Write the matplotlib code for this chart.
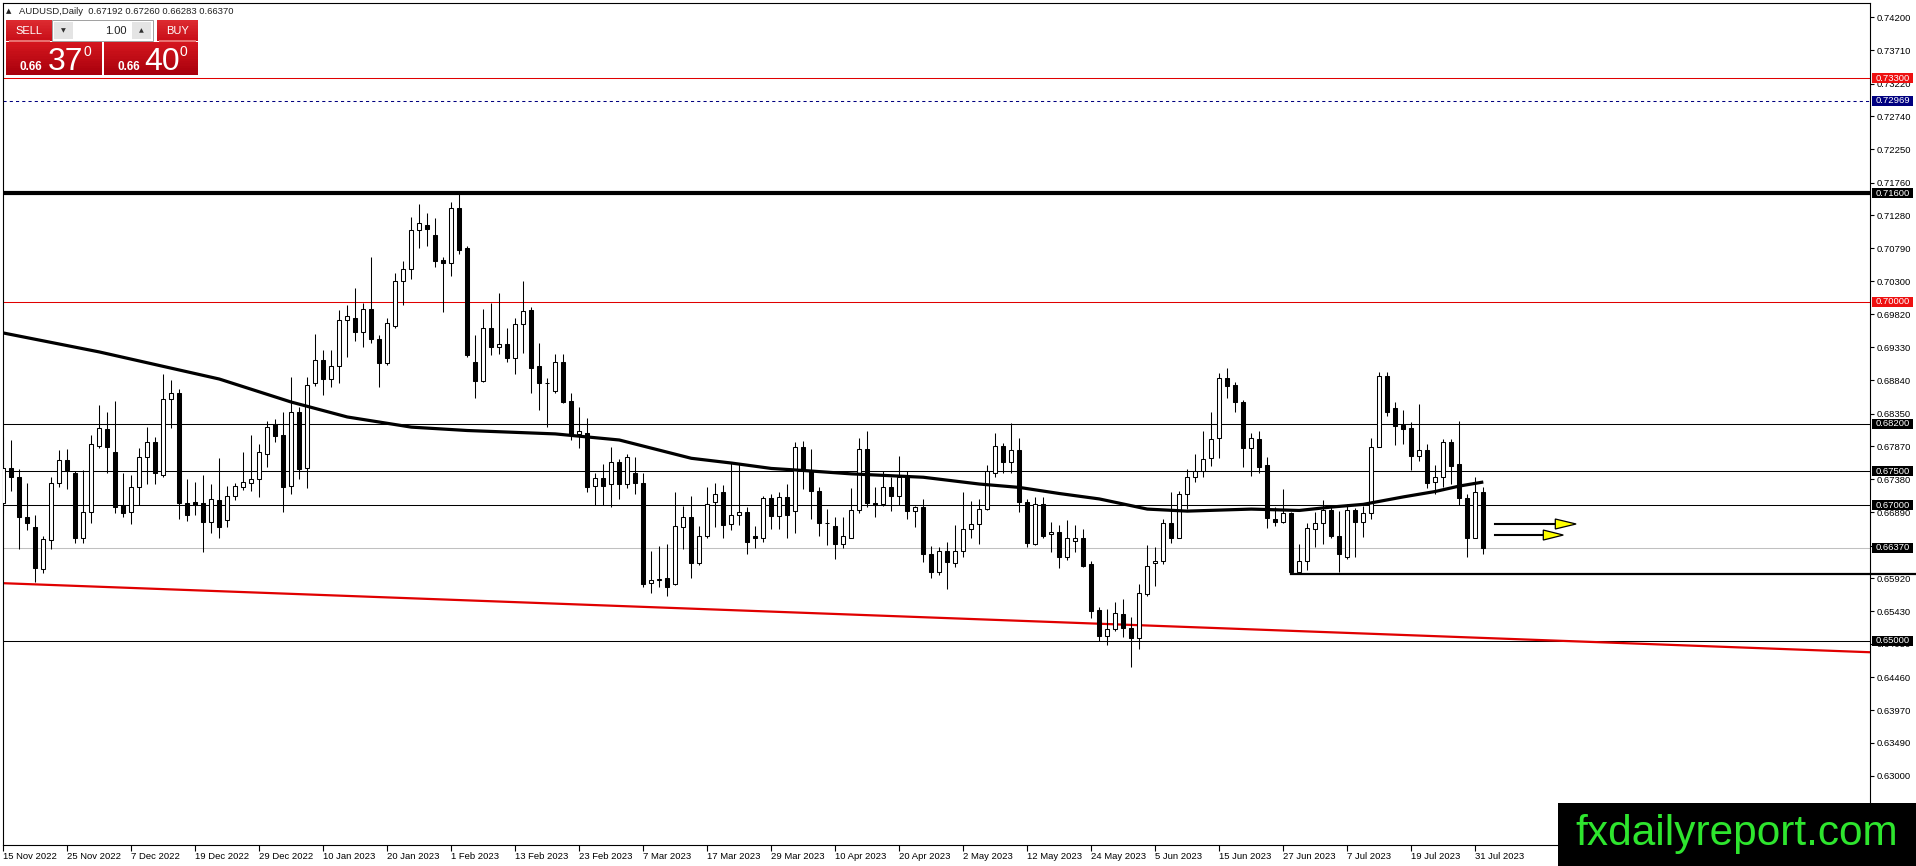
import matplotlib
matplotlib.use("Agg")
import matplotlib.pyplot as plt
from matplotlib.patches import Rectangle, Polygon
from matplotlib.transforms import blended_transform_factory

W, H, DPI = 1916, 866, 100

# ---------------- data (AUDUSD daily, 15 Nov 2022 .. 1 Aug 2023) ----------------
opens = [0.6703, 0.6754, 0.6742, 0.6682, 0.6667, 0.6605, 0.6648, 0.6732, 0.6766, 0.6748,
         0.6652, 0.6689, 0.6787, 0.6812, 0.6779, 0.6700, 0.6689, 0.6726, 0.6771, 0.6793,
         0.6744, 0.6856, 0.6865, 0.6703, 0.6704, 0.6703, 0.6675, 0.6707, 0.6678, 0.6714,
         0.6726, 0.6732, 0.6738, 0.6776, 0.6819, 0.6803, 0.6728, 0.6838, 0.6754, 0.6880,
         0.6914, 0.6886, 0.6905, 0.6973, 0.6976, 0.6955, 0.6990, 0.6945, 0.6909, 0.6964,
         0.7030, 0.7048, 0.7106, 0.7114, 0.7098, 0.7061, 0.7057, 0.7138, 0.7079, 0.6911,
         0.6883, 0.6961, 0.6933, 0.6937, 0.6917, 0.6967, 0.6988, 0.6905, 0.6880, 0.6868,
         0.6911, 0.6853, 0.6805, 0.6807, 0.6728, 0.6740, 0.6731, 0.6763, 0.6731, 0.6747,
         0.6732, 0.6585, 0.6590, 0.6592, 0.6583, 0.6667, 0.6682, 0.6614, 0.6654, 0.6704,
         0.6719, 0.6672, 0.6686, 0.6689, 0.6654, 0.6651, 0.6710, 0.6684, 0.6712, 0.6691,
         0.6785, 0.6751, 0.6720, 0.6674, 0.6669, 0.6642, 0.6652, 0.6692, 0.6782, 0.6703,
         0.6701, 0.6726, 0.6713, 0.6742, 0.6691, 0.6697, 0.6627, 0.6601, 0.6632, 0.6614,
         0.6632, 0.6664, 0.6672, 0.6694, 0.6748, 0.6787, 0.6763, 0.6781, 0.6704, 0.6642,
         0.6701, 0.6657, 0.6660, 0.6623, 0.6647, 0.6652, 0.6613, 0.6545, 0.6506, 0.6517,
         0.6539, 0.6518, 0.6503, 0.6568, 0.6614, 0.6617, 0.6673, 0.6652, 0.6717, 0.6741,
         0.6750, 0.6769, 0.6799, 0.6887, 0.6877, 0.6852, 0.6784, 0.6797, 0.6759, 0.6679,
         0.6675, 0.6688, 0.6601, 0.6617, 0.6664, 0.6673, 0.6692, 0.6655, 0.6624, 0.6692,
         0.6675, 0.6688, 0.6785, 0.6890, 0.6843, 0.6818, 0.6813, 0.6772, 0.6781, 0.6734,
         0.6741, 0.6793, 0.6760, 0.6710, 0.6652, 0.67192]
highs = [0.6800, 0.6796, 0.6753, 0.6732, 0.6685, 0.6654, 0.6741, 0.6781, 0.6782, 0.6750,
         0.6751, 0.6803, 0.6847, 0.6838, 0.6853, 0.6747, 0.6744, 0.6784, 0.6815, 0.6800,
         0.6894, 0.6884, 0.6872, 0.6738, 0.6734, 0.6745, 0.6731, 0.6769, 0.6728, 0.6733,
         0.6778, 0.6803, 0.6790, 0.6824, 0.6827, 0.6837, 0.6889, 0.6844, 0.6889, 0.6952,
         0.6929, 0.6929, 0.6988, 0.6996, 0.7021, 0.6998, 0.7066, 0.6951, 0.6976, 0.7042,
         0.7060, 0.7125, 0.7145, 0.7131, 0.7123, 0.7066, 0.7147, 0.7160, 0.7083, 0.6951,
         0.6990, 0.6998, 0.7013, 0.6962, 0.6976, 0.7030, 0.6992, 0.6939, 0.6887, 0.6923,
         0.6923, 0.6866, 0.6844, 0.6828, 0.6747, 0.6760, 0.6785, 0.6768, 0.6776, 0.6771,
         0.6748, 0.6632, 0.6639, 0.6642, 0.6719, 0.6698, 0.6713, 0.6669, 0.6726, 0.6732,
         0.6729, 0.6762, 0.6762, 0.6697, 0.6669, 0.6713, 0.6716, 0.6719, 0.6731, 0.6793,
         0.6794, 0.6782, 0.6726, 0.6694, 0.6682, 0.6682, 0.6725, 0.6799, 0.6809, 0.6726,
         0.6750, 0.6742, 0.6773, 0.6750, 0.6698, 0.6709, 0.6640, 0.6638, 0.6645, 0.6670,
         0.6719, 0.6706, 0.6709, 0.6759, 0.6806, 0.6791, 0.6821, 0.6799, 0.6709, 0.6712,
         0.6712, 0.6675, 0.6670, 0.6678, 0.6670, 0.6664, 0.6617, 0.6549, 0.6546, 0.6557,
         0.6562, 0.6534, 0.6583, 0.6641, 0.6638, 0.6680, 0.6719, 0.6720, 0.6753, 0.6775,
         0.6809, 0.6838, 0.6895, 0.6902, 0.6881, 0.6855, 0.6807, 0.6809, 0.6771, 0.6697,
         0.6723, 0.6690, 0.6642, 0.6673, 0.6690, 0.6707, 0.6699, 0.6691, 0.6701, 0.6695,
         0.6698, 0.6799, 0.6897, 0.6896, 0.6852, 0.6840, 0.6822, 0.6849, 0.6790, 0.6759,
         0.6797, 0.6797, 0.6824, 0.6717, 0.6741, 0.67260]
lows = [0.6688, 0.6720, 0.6635, 0.6663, 0.6586, 0.6599, 0.6635, 0.6726, 0.6723, 0.6644,
        0.6644, 0.6673, 0.6784, 0.6747, 0.6688, 0.6682, 0.6672, 0.6700, 0.6731, 0.6731,
        0.6741, 0.6813, 0.6679, 0.6676, 0.6685, 0.6630, 0.6658, 0.6651, 0.6668, 0.6708,
        0.6722, 0.6720, 0.6712, 0.6756, 0.6793, 0.6689, 0.6717, 0.6738, 0.6725, 0.6875,
        0.6862, 0.6874, 0.6880, 0.6918, 0.6942, 0.6933, 0.6939, 0.6874, 0.6906, 0.6961,
        0.6995, 0.7033, 0.7080, 0.7083, 0.7052, 0.6985, 0.7038, 0.7070, 0.6918, 0.6858,
        0.6881, 0.6921, 0.6923, 0.6911, 0.6893, 0.6924, 0.6866, 0.6841, 0.6815, 0.6865,
        0.6850, 0.6796, 0.6784, 0.6719, 0.6700, 0.6700, 0.6697, 0.6709, 0.6725, 0.6717,
        0.6579, 0.6570, 0.6579, 0.6565, 0.6582, 0.6635, 0.6592, 0.6611, 0.6651, 0.6667,
        0.6652, 0.6663, 0.6670, 0.6627, 0.6637, 0.6645, 0.6664, 0.6664, 0.6652, 0.6658,
        0.6723, 0.6679, 0.6654, 0.6641, 0.6621, 0.6636, 0.6651, 0.6688, 0.6697, 0.6682,
        0.6698, 0.6691, 0.6700, 0.6679, 0.6667, 0.6616, 0.6593, 0.6596, 0.6576, 0.6608,
        0.6623, 0.6652, 0.6642, 0.6692, 0.6742, 0.6748, 0.6747, 0.6689, 0.6638, 0.6641,
        0.6652, 0.6630, 0.6607, 0.6619, 0.6630, 0.6608, 0.6533, 0.6500, 0.6493, 0.6514,
        0.6505, 0.6461, 0.6487, 0.6566, 0.6580, 0.6613, 0.6644, 0.6652, 0.6694, 0.6734,
        0.6741, 0.6757, 0.6769, 0.6858, 0.6837, 0.6756, 0.6743, 0.6747, 0.6666, 0.6669,
        0.6673, 0.6599, 0.6599, 0.6604, 0.6638, 0.6642, 0.6652, 0.6601, 0.6620, 0.6624,
        0.6653, 0.6680, 0.6785, 0.6831, 0.6788, 0.6790, 0.6751, 0.6765, 0.6725, 0.6717,
        0.6726, 0.6731, 0.6700, 0.6623, 0.6651, 0.66283]
closes = [0.6754, 0.6742, 0.6682, 0.6673, 0.6607, 0.6650, 0.6732, 0.6766, 0.6751, 0.6652,
          0.6689, 0.6790, 0.6813, 0.6785, 0.6697, 0.6688, 0.6726, 0.6771, 0.6793, 0.6747,
          0.6856, 0.6865, 0.6703, 0.6685, 0.6700, 0.6675, 0.6709, 0.6667, 0.6714, 0.6728,
          0.6734, 0.6738, 0.6778, 0.6815, 0.6802, 0.6726, 0.6838, 0.6753, 0.6877, 0.6914,
          0.6886, 0.6905, 0.6973, 0.6979, 0.6955, 0.6989, 0.6945, 0.6909, 0.6968, 0.7030,
          0.7048, 0.7106, 0.7116, 0.7107, 0.7060, 0.7057, 0.7138, 0.7076, 0.6921, 0.6883,
          0.6961, 0.6933, 0.6937, 0.6917, 0.6967, 0.6986, 0.6903, 0.6880, 0.6880, 0.6911,
          0.6852, 0.6803, 0.6809, 0.6726, 0.6740, 0.6728, 0.6763, 0.6731, 0.6771, 0.6732,
          0.6583, 0.6590, 0.6591, 0.6579, 0.6669, 0.6682, 0.6614, 0.6655, 0.6701, 0.6717,
          0.6670, 0.6686, 0.6689, 0.6645, 0.6651, 0.6710, 0.6684, 0.6712, 0.6686, 0.6785,
          0.6751, 0.6720, 0.6673, 0.6673, 0.6642, 0.6654, 0.6692, 0.6782, 0.6703, 0.6700,
          0.6726, 0.6713, 0.6741, 0.6691, 0.6697, 0.6627, 0.6601, 0.6632, 0.6616, 0.6632,
          0.6664, 0.6672, 0.6694, 0.6750, 0.6787, 0.6763, 0.6781, 0.6704, 0.6644, 0.6701,
          0.6655, 0.6660, 0.6623, 0.6652, 0.6652, 0.6610, 0.6543, 0.6506, 0.6517, 0.6540,
          0.6518, 0.6503, 0.6570, 0.6610, 0.6617, 0.6673, 0.6652, 0.6717, 0.6741, 0.6750,
          0.6768, 0.6797, 0.6887, 0.6875, 0.6852, 0.6784, 0.6799, 0.6756, 0.6681, 0.6675,
          0.6688, 0.6601, 0.6617, 0.6666, 0.6673, 0.6692, 0.6654, 0.6627, 0.6692, 0.6675,
          0.6688, 0.6785, 0.6890, 0.6838, 0.6816, 0.6812, 0.6772, 0.6781, 0.6732, 0.6741,
          0.6793, 0.6757, 0.6710, 0.6651, 0.6719, 0.66370]

# moving average (bar index, price)
ma_bars = [0, 12, 27, 36, 43, 51, 58, 69, 77, 82, 86, 91, 96, 100, 106, 115, 122, 127,
           132, 137, 143, 148, 156, 162, 166, 170, 175, 179, 182, 185]
ma_vals = [0.6954, 0.6926, 0.6886, 0.6852, 0.6830, 0.6815, 0.6810, 0.6805, 0.6796, 0.6781,
           0.6769, 0.6762, 0.6754, 0.6751, 0.6746, 0.6741, 0.6731, 0.6726, 0.6717, 0.6709,
           0.6694, 0.6691, 0.6694, 0.6692, 0.6697, 0.6701, 0.6712, 0.6720, 0.6728, 0.6734]

date_labels = ["15 Nov 2022", "25 Nov 2022", "7 Dec 2022", "19 Dec 2022", "29 Dec 2022",
               "10 Jan 2023", "20 Jan 2023", "1 Feb 2023", "13 Feb 2023", "23 Feb 2023",
               "7 Mar 2023", "17 Mar 2023", "29 Mar 2023", "10 Apr 2023", "20 Apr 2023",
               "2 May 2023", "12 May 2023", "24 May 2023", "5 Jun 2023", "15 Jun 2023",
               "27 Jun 2023", "7 Jul 2023", "19 Jul 2023", "31 Jul 2023"]
date_label_bars = [0, 8, 16, 24, 32, 40, 48, 56, 64, 72, 80, 88, 96, 104, 112, 120, 128,
                   136, 144, 152, 160, 168, 176, 184]

price_ticks = [0.74200, 0.73710, 0.73220, 0.72740, 0.72250, 0.71760, 0.71280, 0.70790,
               0.70300, 0.69820, 0.69330, 0.68840, 0.68350, 0.67870, 0.67380, 0.66890,
               0.66400, 0.65920, 0.65430, 0.64950, 0.64460, 0.63970, 0.63490, 0.63000]
hidden_tick_labels = [0.66400]   # fully covered by the 0.66370 price box in the original

level_prices = [0.73300, 0.72969, 0.71600, 0.70000, 0.68200, 0.67500, 0.67000, 0.66370, 0.65000]
level_names = ["0.73300", "0.72969", "0.71600", "0.70000", "0.68200", "0.67500", "0.67000",
               "0.66370", "0.65000"]
level_colors = ["#e00000", "#000080", "#000000", "#e00000", "#000000", "#000000", "#000000",
                "#c0c0c0", "#000000"]
label_colors = ["#ee1111", "#000080", "#000000", "#ee1111", "#000000", "#000000", "#000000",
                "#000000", "#000000"]
level_widths = [0.75, 0.75, 3.0, 0.75, 0.75, 0.75, 0.75, 0.75, 0.75]
level_styles = ["-", (0, (3, 3)), "-", "-", "-", "-", "-", "-", "-"]

support_start_bar = 161
support_price = 0.65982
trend_bars = [0.0, 233.3]
trend_prices = [0.65846, 0.64827]

arrow_start = [186.5, 186.5]
arrow_head_base = [194.0, 192.5]
arrow_tip = [196.6, 195.0]
arrow_price = [0.66720, 0.66557]

header = "AUDUSD,Daily  0.67192 0.67260 0.66283 0.66370"

# ---------------- figure ----------------
FONT = ["Liberation Sans", "DejaVu Sans"]
plt.rcParams["font.family"] = FONT

fig = plt.figure(figsize=(W / DPI, H / DPI), dpi=DPI)
fig.patch.set_facecolor("white")

AX_L, AX_R, AX_T, AX_B = 3, 1870, 3, 845
ax = fig.add_axes([AX_L / W, 1 - AX_B / H, (AX_R - AX_L) / W, (AX_B - AX_T) / H])
ax.set_facecolor("white")

BAR0, PXB = 3.3, 8.0
ax.set_xlim((AX_L - BAR0) / PXB, (AX_R - BAR0) / PXB)
PX_PER_PRICE = 6774.0
ax.set_ylim(0.742 - (AX_B - 17.3) / PX_PER_PRICE, 0.742 + (17.3 - AX_T) / PX_PER_PRICE)

for s in ax.spines.values():
    s.set_color("black")
    s.set_linewidth(0.8)

# levels
for p, c, lw, ls in zip(level_prices, level_colors, level_widths, level_styles):
    ax.axhline(p, color=c, lw=lw, linestyle=ls, zorder=1)

# trend line
ax.plot(trend_bars, trend_prices, color="#e00000", lw=1.6, zorder=1.5)

# candles
n = len(opens)
bw = 0.5
for i in range(n):
    o, h, l, c = opens[i], highs[i], lows[i], closes[i]
    ax.vlines(i, l, h, color="black", lw=0.75, zorder=2)
    bull = c > o
    lo, hi = min(o, c), max(o, c)
    ax.add_patch(Rectangle((i - bw / 2, lo), bw, hi - lo,
                           facecolor="white" if bull else "black",
                           edgecolor="black", lw=0.75, zorder=3))

# moving average
ax.plot(ma_bars, ma_vals, color="black", lw=2.3, zorder=4, solid_capstyle="butt",
        solid_joinstyle="round")

# support segment (runs out past the price scale)
ax.plot([support_start_bar, (W - BAR0) / PXB], [support_price, support_price],
        color="black", lw=1.6, zorder=4, clip_on=False)

# arrows
hh = 5.0 / PX_PER_PRICE
for s0, hb, tp, py in zip(arrow_start, arrow_head_base, arrow_tip, arrow_price):
    ax.plot([s0, hb], [py, py], color="black", lw=1.5, zorder=5)
    ax.add_patch(Polygon([(hb, py + hh), (tp, py), (hb, py - hh)], closed=True,
                         facecolor="#ffff00", edgecolor="black", lw=0.9, zorder=6))

# axes ticks
ax.yaxis.tick_right()
ax.set_yticks(price_ticks)
ax.set_yticklabels(["" if t in hidden_tick_labels else f"{t:.5f}" for t in price_ticks])
ax.tick_params(axis="y", direction="out", length=3, width=0.8, pad=2, labelsize=6.8,
               colors="black")
ax.set_xticks(date_label_bars)
ax.set_xticklabels(date_labels)
ax.tick_params(axis="x", direction="out", length=4, width=0.8, pad=1, labelsize=6.8)
for lbl in ax.get_xticklabels():
    lbl.set_ha("left")

# price labels on the scale
bt = blended_transform_factory(ax.transAxes, ax.transData)
xa0 = (1872 - AX_L) / (AX_R - AX_L)
wa = 41 / (AX_R - AX_L)
bh = 10 / PX_PER_PRICE
for p, txt, bc in zip(level_prices, level_names, label_colors):
    ax.add_patch(Rectangle((xa0, p - bh / 2), wa, bh, transform=bt, facecolor=bc,
                           edgecolor="none", clip_on=False, zorder=7))
    ax.text(xa0 + wa / 2, p, txt, transform=bt, ha="center", va="center", color="white",
            fontsize=6.8, clip_on=False, zorder=8)


# ---------------- overlays in pixel coords ----------------
def fx(x):
    return x / W


def fy(y):
    return 1 - y / H


def rect_px(x0, y0, x1, y1, color, z=10, ec="none", lw=0):
    fig.add_artist(Rectangle((fx(x0), fy(y1)), fx(x1) - fx(x0), fy(y0) - fy(y1),
                             transform=fig.transFigure, facecolor=color, edgecolor=ec,
                             lw=lw, zorder=z))


def grad_px(x0, y0, x1, y1, c0, c1, steps=14, z=10):
    import matplotlib.colors as mc
    a = mc.to_rgb(c0)
    b = mc.to_rgb(c1)
    hgt = (y1 - y0) / steps
    for k in range(steps):
        t = k / (steps - 1)
        col = tuple(a[j] + (b[j] - a[j]) * t for j in range(3))
        rect_px(x0, y0 + k * hgt, x1, y0 + (k + 1) * hgt + 0.3, col, z=z)


fig.text(fx(6), fy(11.5), "▲", fontsize=5, family=["DejaVu Sans"], va="center",
         ha="left", color="#202020", zorder=12)
fig.text(fx(19), fy(11.5), header, fontsize=6.8, va="center", ha="left",
         color="#202020", zorder=12)

# SELL / BUY header boxes
grad_px(6, 20, 52, 41, "#dc2a30", "#c80e18")
grad_px(157, 20, 198, 41, "#dc2a30", "#c80e18")
rect_px(9, 40.5, 50, 41.5, "#e87070", z=11)
rect_px(159, 40.5, 196, 41.5, "#e87070", z=11)
fig.text(fx(29), fy(31), "SELL", fontsize=8, color="white", ha="center", va="center",
         zorder=12)
fig.text(fx(177.5), fy(31), "BUY", fontsize=8, color="white", ha="center", va="center",
         zorder=12)
# lot spinner
rect_px(52, 20, 153, 41, "white", z=10, ec="#a0a0a0", lw=0.7)
rect_px(54, 22, 73, 39, "#e4e4e4", z=11)
rect_px(132, 22, 151, 39, "#e4e4e4", z=11)
fig.text(fx(63.5), fy(30.5), "▼", fontsize=4.5, family=["DejaVu Sans"], ha="center",
         va="center", color="#303030", zorder=12)
fig.text(fx(141.5), fy(30.5), "▲", fontsize=4.5, family=["DejaVu Sans"], ha="center",
         va="center", color="#303030", zorder=12)
fig.text(fx(127), fy(30.5), "1.00", fontsize=8, ha="right", va="center",
         color="#202020", zorder=12)
# price boxes
grad_px(6, 42, 102, 75, "#d4161e", "#a8000c")
grad_px(104, 42, 198, 75, "#d4161e", "#a8000c")
for x_small, x_big, x_sup, big in [(20, 48, 83, "37"), (118, 144, 180, "40")]:
    fig.text(fx(x_small), fy(70), "0.66", fontsize=8.5, weight="bold", color="white",
             ha="left", va="baseline", zorder=12)
    fig.text(fx(x_big), fy(70), big, fontsize=23, color="white", ha="left",
             va="baseline", zorder=12)
    fig.text(fx(x_sup), fy(56), "0", fontsize=10, color="white", ha="left",
             va="baseline", zorder=12)

# watermark
rect_px(1558, 803, 1916, 866, "black", z=20)
fig.text(fx(1575), fy(845), "fxdailyreport.com", fontsize=30.5, color="#2ee52e",
         ha="left", va="baseline", zorder=21)

fig.savefig("out.png", dpi=DPI, facecolor="white")
